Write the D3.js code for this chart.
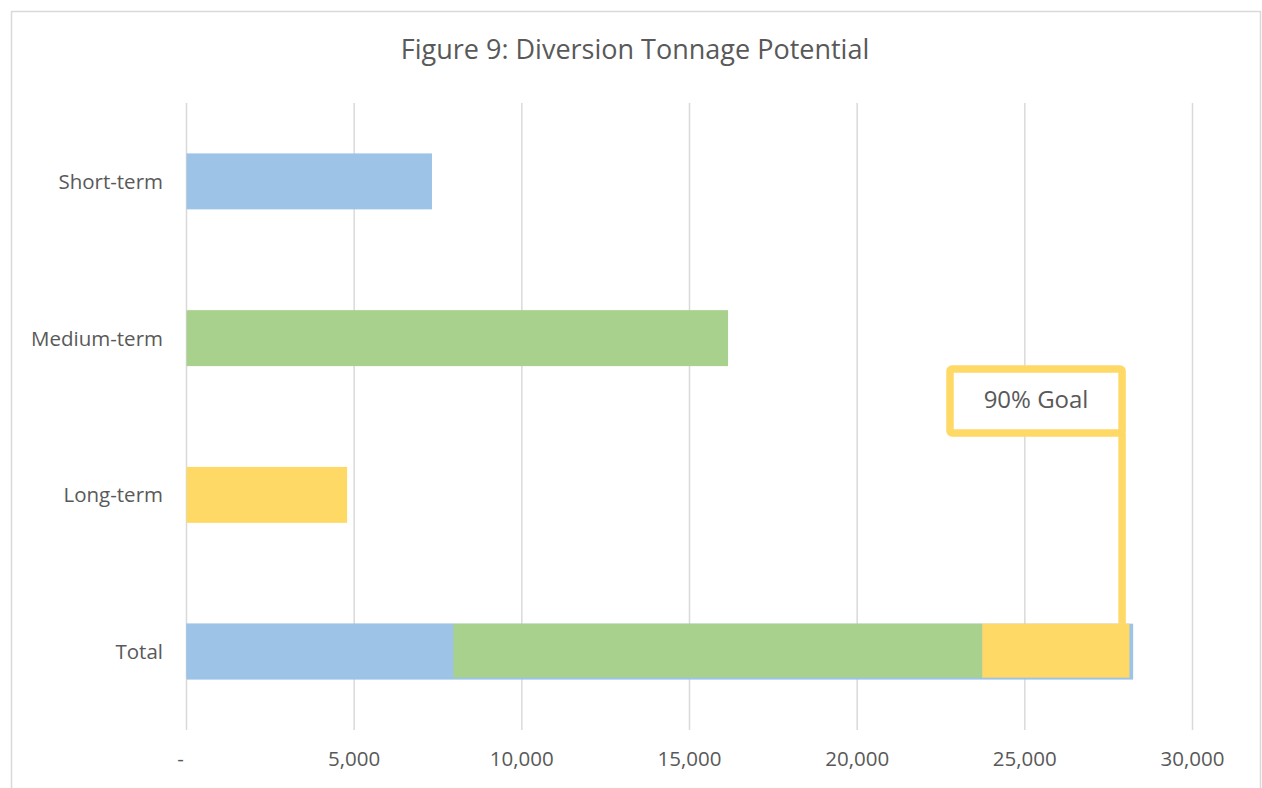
<!DOCTYPE html>
<html>
<head>
<meta charset="utf-8">
<script src="https://cdn.jsdelivr.net/npm/d3@7"></script>
<style>
  body { margin: 0; background: #fff; }
  text { font-family: "Open Sans", "DejaVu Sans", sans-serif; fill: #595959; }
</style>
</head>
<body>
<svg id="chart" width="1262" height="788"></svg>
<script>
// --- data ---
var categories = ["Short-term", "Medium-term", "Long-term", "Total"];
var termValues = [7320, 16150, 4790];          // single bars
var termColors = ["#9dc3e6", "#a9d18e", "#ffd966"];
var totalSegments = [7960, 15770, 4390];        // stacked pieces on the Total row
var totalValue = 28230;                          // full Total bar behind the stack
var goalValue = 27900;                           // 90% goal marker
var goalLabel = "90% Goal";
var xTicks = [0, 5000, 10000, 15000, 20000, 25000, 30000];

var svg = d3.select("#chart");

// outer frame
svg.append("rect")
  .attr("x", 11.5).attr("y", 11.5)
  .attr("width", 1249).attr("height", 800)
  .attr("fill", "#fff")
  .attr("stroke", "#d9d9d9")
  .attr("stroke-width", 1.5);

svg.append("text")
  .attr("x", 635).attr("y", 52)
  .attr("text-anchor", "middle")
  .attr("dominant-baseline", "middle")
  .style("font-size", "27px")
  .text("Figure 9: Diversion Tonnage Potential");

var x = d3.scaleLinear().domain([0, 30000]).range([186.5, 1192.5]);
var y = d3.scaleBand().domain(categories).range([103, 730])
  .paddingInner(0.643).paddingOuter(0.3215);

// gridlines
svg.append("g").selectAll("line")
  .data(xTicks)
  .enter().append("line")
    .attr("x1", function(d) { return x(d); })
    .attr("x2", function(d) { return x(d); })
    .attr("y1", 103).attr("y2", 730)
    .attr("stroke", "#d9d9d9")
    .attr("stroke-width", 1.5);

// x tick labels
svg.append("g").selectAll("text")
  .data(xTicks)
  .enter().append("text")
    .attr("x", function(d) { return d === 0 ? x(d) - 6 : x(d); })
    .attr("y", 761)
    .attr("text-anchor", "middle")
    .attr("dominant-baseline", "middle")
    .style("font-size", "20.5px")
    .text(function(d) { return d === 0 ? "-" : d3.format(",")(d); });

// category labels
svg.append("g").selectAll("text")
  .data(categories)
  .enter().append("text")
    .attr("x", 163)
    .attr("y", function(d) { return y(d) + y.bandwidth() / 2 + 2; })
    .attr("text-anchor", "end")
    .attr("dominant-baseline", "middle")
    .style("font-size", "20.5px")
    .text(function(d) { return d; });

// single term bars
svg.append("g").selectAll("rect")
  .data(termValues)
  .enter().append("rect")
    .attr("x", x(0))
    .attr("y", function(d, i) { return y(categories[i]); })
    .attr("width", function(d) { return x(d) - x(0); })
    .attr("height", y.bandwidth())
    .attr("fill", function(d, i) { return termColors[i]; });

// total: full bar behind, stacked pieces on top
svg.append("rect")
  .attr("x", x(0))
  .attr("y", y("Total"))
  .attr("width", x(totalValue) - x(0))
  .attr("height", y.bandwidth())
  .attr("fill", termColors[0]);

var cum = 0;
var stack = totalSegments.map(function(v) {
  var s = { start: cum, end: cum + v };
  cum += v;
  return s;
});

svg.append("g").selectAll("rect")
  .data(stack)
  .enter().append("rect")
    .attr("x", function(d) { return x(d.start); })
    .attr("y", y("Total"))
    .attr("width", function(d) { return x(d.end) - x(d.start); })
    .attr("height", y.bandwidth() - 2)
    .attr("fill", function(d, i) { return termColors[i]; });

// goal callout
var gx = x(goalValue);
var boxTop = 369, boxBottom = 433, boxLeft = 950;

svg.append("line")
  .attr("x1", gx).attr("x2", gx)
  .attr("y1", boxBottom).attr("y2", y("Total"))
  .attr("stroke", "#ffd966")
  .attr("stroke-width", 7.5);

svg.append("rect")
  .attr("x", boxLeft).attr("y", boxTop)
  .attr("width", gx - boxLeft).attr("height", boxBottom - boxTop)
  .attr("rx", 2)
  .attr("fill", "#fff")
  .attr("stroke", "#ffd966")
  .attr("stroke-width", 7.5);

svg.append("text")
  .attr("x", (boxLeft + gx) / 2)
  .attr("y", (boxTop + boxBottom) / 2 + 1)
  .attr("text-anchor", "middle")
  .attr("dominant-baseline", "middle")
  .style("font-size", "24px")
  .text(goalLabel);
</script>
</body>
</html>
